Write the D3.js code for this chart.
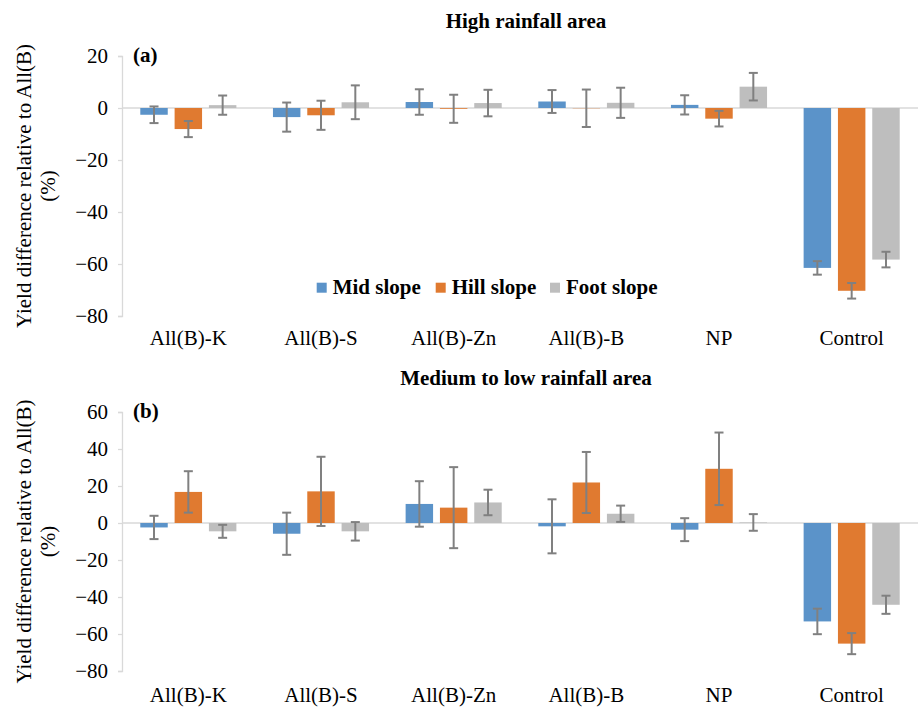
<!DOCTYPE html>
<html><head><meta charset="utf-8">
<script src="https://cdn.jsdelivr.net/npm/d3@7"></script>
<style>body{margin:0;background:#fff}svg{display:block}
svg text{font-family:"Liberation Serif","Times New Roman",Times,"Tinos","Nimbus Roman","DejaVu Serif",serif !important;fill:#000}</style>
</head><body>
<svg id="c" width="920" height="707" font-family="Liberation Serif, Times New Roman, serif"></svg>
<script>
const categories = ["All(B)-K","All(B)-S","All(B)-Zn","All(B)-B","NP","Control"];
const seriesNames = ["Mid slope","Hill slope","Foot slope"];
const colors = ["#5b93c9","#e07a30","#bebebe"];
const yTicksA = [-80,-60,-40,-20,0,20];
const yTicksB = [-80,-60,-40,-20,0,20,40,60];

const highMid = [-2.6,-3.5,2.3,2.5,1.2,-61.5];
const highMidErr = [3.2,5.6,4.9,4.4,3.7,2.6];
const highHill = [-8.1,-2.8,-0.3,-0.1,-4.1,-70.3];
const highHillErr = [3.1,5.6,5.4,7.2,3.0,3.0];
const highFoot = [1.1,2.2,1.9,2.0,8.2,-58.3];
const highFootErr = [3.7,6.5,5.1,5.8,5.3,3.0];

const lowMid = [-2.4,-5.8,10.3,-1.8,-3.6,-53.2];
const lowMidErr = [6.3,11.4,12.3,14.6,6.2,6.9];
const lowHill = [16.8,17.1,8.3,21.9,29.3,-65.2];
const lowHillErr = [11.2,18.7,21.9,16.5,19.6,5.7];
const lowFoot = [-4.5,-4.5,11.1,5.0,0.3,-44.2];
const lowFootErr = [3.5,5.0,6.9,4.4,4.5,4.9];

const FONT = '"Liberation Serif","Times New Roman",Times,serif';
const svg = d3.select("#c");
const axisColor = "#d9d9d9";
const x0 = d3.scaleBand().domain(categories).range([122, 918]).paddingInner(0.224).paddingOuter(0.112);
const x1 = d3.scaleBand().domain(seriesNames).range([0, x0.bandwidth()]).paddingInner(0.2).paddingOuter(0.1);

function panel(opts){
  const y = d3.scaleLinear().domain(opts.domain).range(opts.range);
  const g = svg.append("g");
  g.append("text").attr("x",526).attr("y",opts.titleY).attr("text-anchor","middle")
    .style("font-weight","bold").style("font-size","21px").text(opts.title);
  const ya = d3.axisLeft(y).tickValues(opts.ticks).tickSize(4).tickPadding(10);
  const ag = g.append("g").attr("transform","translate(122,0)").call(ya).attr("font-family",null).attr("font-size",null);
  ag.select(".domain").attr("stroke",axisColor).attr("stroke-width",1.3);
  ag.selectAll(".tick line").attr("stroke",axisColor).attr("stroke-width",1.3);
  ag.selectAll(".tick text").style("font-size","21px").attr("fill","#000");
  g.append("line").attr("x1",122).attr("x2",918).attr("y1",y(0)).attr("y2",y(0))
    .attr("stroke",axisColor).attr("stroke-width",1.5);
  const data = [];
  categories.forEach((c,i)=>{
    opts.series.forEach((s,j)=>{ data.push({c, s:seriesNames[j], v:s.vals[i], e:s.errs[i], col:colors[j]}); });
  });
  g.selectAll("rect.bar").data(data).join("rect").attr("class","bar")
    .attr("x",d=>x0(d.c)+x1(d.s)).attr("width",x1.bandwidth())
    .attr("y",d=>Math.min(y(0),y(d.v))).attr("height",d=>Math.abs(y(d.v)-y(0)))
    .attr("fill",d=>d.col);
  const eg = g.selectAll("g.err").data(data).join("g").attr("class","err");
  const cx = d=>x0(d.c)+x1(d.s)+x1.bandwidth()/2;
  eg.append("line").attr("x1",cx).attr("x2",cx).attr("y1",d=>y(d.v+d.e)).attr("y2",d=>y(d.v-d.e))
    .attr("stroke","#808080").attr("stroke-width",2);
  [1,-1].forEach(sg=>{
    eg.append("line").attr("x1",d=>cx(d)-4.5).attr("x2",d=>cx(d)+4.5)
      .attr("y1",d=>y(d.v+sg*d.e)).attr("y2",d=>y(d.v+sg*d.e))
      .attr("stroke","#808080").attr("stroke-width",2);
  });
  g.selectAll("text.cat").data(categories).join("text").attr("class","cat")
    .attr("x",d=>x0(d)+x0.bandwidth()/2).attr("y",opts.catY).attr("text-anchor","middle")
    .style("font-size","21px").text(d=>d);
  g.append("text").attr("x",133).attr("y",opts.labelY).style("font-weight","bold").style("font-size","21px").text(opts.label);
  const my = (opts.range[0]+opts.range[1])/2;
  const yt = g.append("text").attr("transform",`translate(31,${my}) rotate(-90)`).attr("text-anchor","middle").style("font-size","21px");
  yt.append("tspan").attr("x",0).attr("y",0).text("Yield difference relative to All(B)");
  yt.append("tspan").attr("x",0).attr("y",24).text("(%)");
  return {g,y};
}

panel({domain:[-80,20], range:[316,56], ticks:yTicksA, title:"High rainfall area", titleY:28,
  catY:345, label:"(a)", labelY:62,
  series:[{vals:highMid,errs:highMidErr},{vals:highHill,errs:highHillErr},{vals:highFoot,errs:highFootErr}]});
panel({domain:[-80,60], range:[671,412], ticks:yTicksB, title:"Medium to low rainfall area", titleY:385,
  catY:702, label:"(b)", labelY:418,
  series:[{vals:lowMid,errs:lowMidErr},{vals:lowHill,errs:lowHillErr},{vals:lowFoot,errs:lowFootErr}]});

const legX = [316.7, 435.7, 550];
const lg = svg.append("g");
seriesNames.forEach((s,i)=>{
  lg.append("rect").attr("x",legX[i]).attr("y",282.7).attr("width",10).attr("height",10).attr("fill",colors[i]);
  lg.append("text").attr("x",legX[i]+16).attr("y",294.3).style("font-weight","bold").style("font-size","21px").text(s);
});
svg.selectAll("text").style("font-family", FONT);
</script>
</body></html>
